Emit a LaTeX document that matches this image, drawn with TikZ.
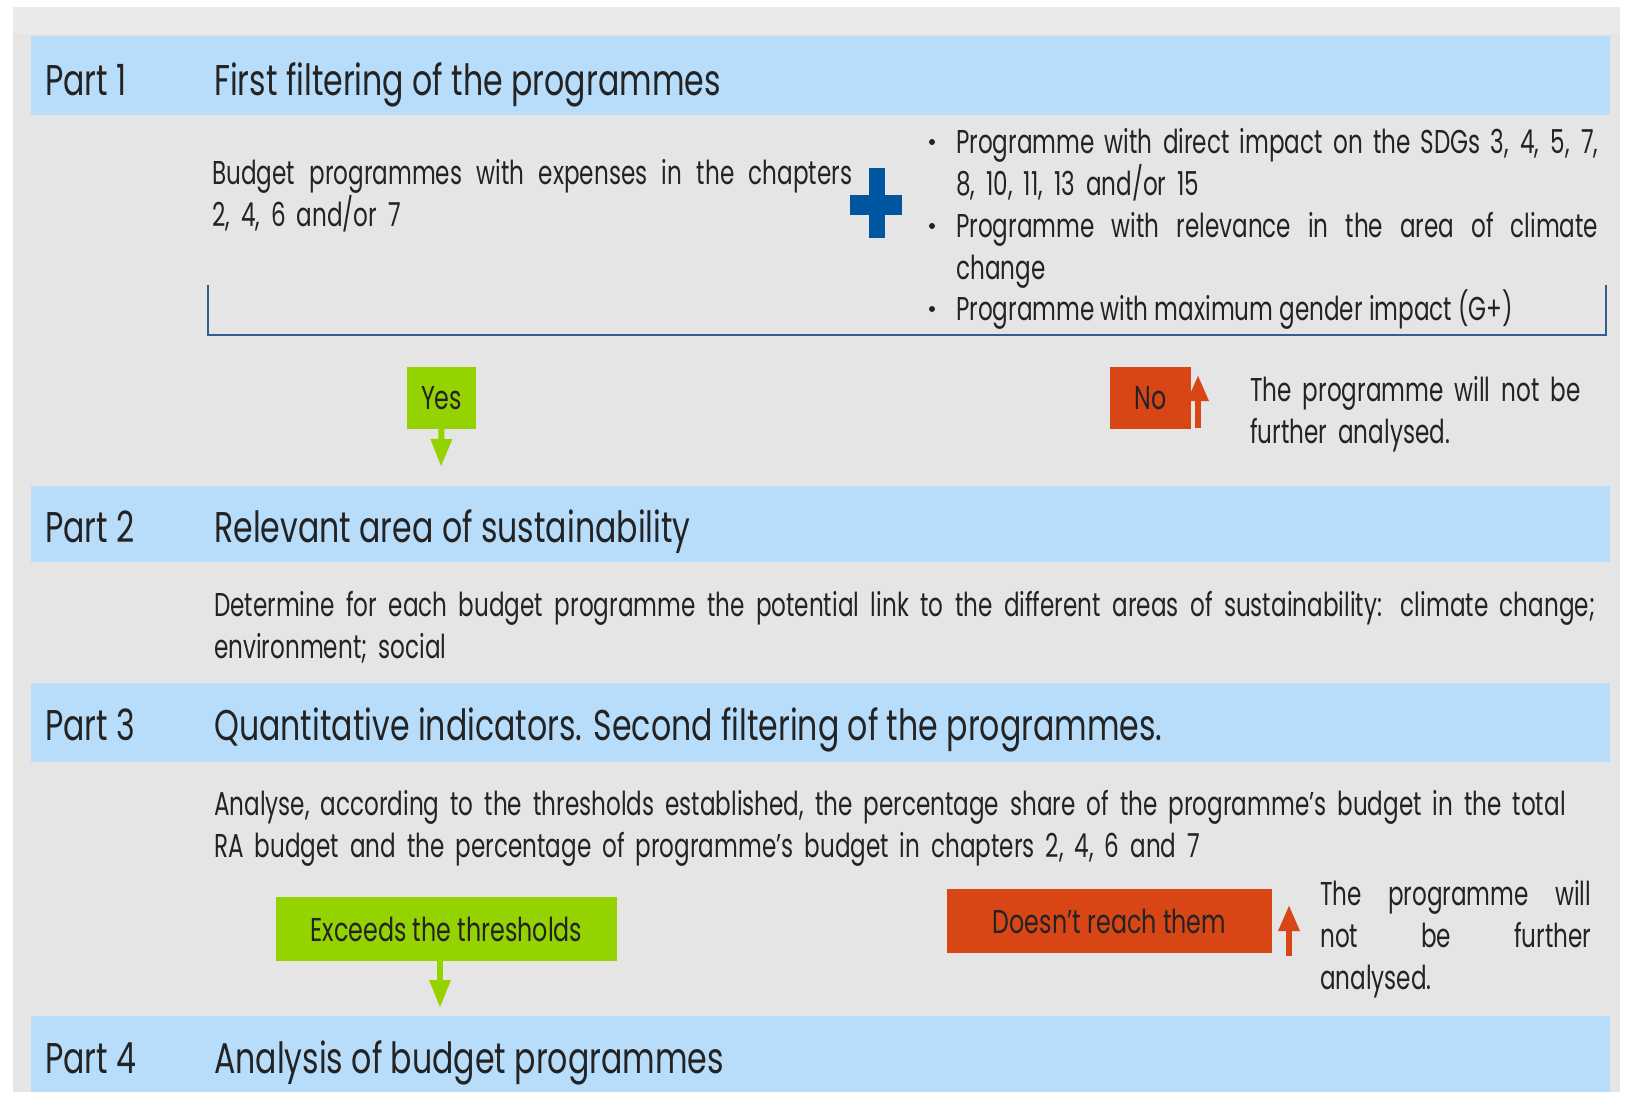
\documentclass[tikz,border=0pt]{standalone}
\usepackage{fontspec}
\setmainfont{Poppins}[FakeStretch=0.70]
\newfontfamily\hdrfont{Poppins}[FakeStretch=0.735]
\newfontfamily\boxfont{Poppins}[FakeStretch=0.72]
\usetikzlibrary{arrows.meta}
\definecolor{bggray}{RGB}{229,229,229}
\definecolor{topgray}{RGB}{234,234,234}
\definecolor{bandblue}{RGB}{183,221,251}
\definecolor{okgreen}{RGB}{148,210,0}
\definecolor{nored}{RGB}{216,70,22}
\definecolor{plusblue}{RGB}{0,86,160}
\definecolor{brkblue}{RGB}{52,94,140}
\definecolor{txt}{RGB}{35,35,35}
\newcommand{\jline}[2]{\makebox[#1][s]{\spaceskip=0pt\xspaceskip=0pt #2}}
\begin{document}
\begin{tikzpicture}[x=1pt,y=-1pt,
  band/.style={fill=bandblue},
  hdr/.style={anchor=base west, inner sep=0pt, text=txt, font=\hdrfont\fontsize{43}{50}\selectfont},
  body/.style={anchor=base west, inner sep=0pt, text=txt, align=left, font=\fontsize{33}{42}\selectfont},
  okbox/.style={fill=okgreen, inner sep=0pt, text=txt, font=\boxfont\fontsize{33}{42}\selectfont},
  nobox/.style={fill=nored, inner sep=0pt, text=txt, font=\boxfont\fontsize{33}{42}\selectfont},
  okarrow/.style={draw=okgreen, line width=6pt, -{Triangle[width=20pt,length=28pt]}},
  noarrow/.style={draw=nored, line width=6pt, -{Triangle[width=20pt,length=26pt]}},
  dot/.style={circle, fill=txt, inner sep=0pt, minimum size=6pt}
]
\useasboundingbox (0,0) rectangle (1629,1092);
\fill[white] (0,0) rectangle (1629,1092);
\fill[bggray] (13,7) rectangle (1620,1092);
\fill[topgray] (13,7) rectangle (1620,34);

% bands
\fill[band] (31,36) rectangle (1610,115);
\fill[band] (31,486) rectangle (1610,562);
\fill[band] (31,683) rectangle (1610,762);
\fill[band] (31,1016) rectangle (1610,1092);

% headers
\node[hdr] (p1) at (45,95) {Part 1};
\node[hdr] (t1) at (214,95) {First filtering of the programmes};
\node[hdr] (p2) at (45,542) {Part 2};
\node[hdr] (t2) at (214,542) {Relevant area of sustainability};
\node[hdr] (p3) at (45,740) {Part 3};
\node[hdr] (t3) at (214,740) {Quantitative indicators. Second filtering of the programmes.};
\node[hdr] (p4) at (45,1073) {Part 4};
\node[hdr] (t4) at (214,1073) {Analysis of budget programmes};

% Part 1 body
\node[body, text width=660pt] (b1) at (212,184)
  {\jline{640pt}{Budget programmes with expenses in the chapters}\\2, 4, 6 and/or 7};
\fill[plusblue] (850,195) rectangle (902,215);
\fill[plusblue] (869,168) rectangle (885,238);

\node[dot] (d1) at (932,142) {};
\node[dot] (d2) at (932,226) {};
\node[dot] (d3) at (932,309) {};
\node[body, text width=650pt] (c1) at (956,153)
  {\jline{642pt}{Programme with direct impact on the SDGs 3, 4, 5, 7,}\\8, 10, 11, 13 and/or 15};
\node[body, text width=650pt] (c2) at (956,237)
  {\jline{642pt}{Programme with relevance in the area of climate}\\change};
\node[body] (c3) at (956,320) {Programme with maximum gender impact (G+)};

\draw[brkblue, line width=2.5pt] (208,285) -- (208,335) -- (1606,335) -- (1606,285);

% Yes / No
\node[okbox, minimum width=69pt, minimum height=62pt] (yes) at (441.5,398) {Yes};
\coordinate (yesend) at (441,467);
\draw[okarrow] (yes.south) -- (yesend);
\node[nobox, minimum width=81pt, minimum height=62pt] (no) at (1150.5,398) {No};
\coordinate (nofoot) at (1198,428);
\coordinate (notip) at (1198,375);
\draw[noarrow] (nofoot) -- (notip);
\node[body, text width=360pt] (nt1) at (1250,401) {The programme will not be\\further analysed.};

% Part 2 body
\node[body, text width=1400pt] (b2) at (214,616)
  {\jline{1381pt}{Determine for each budget programme the potential link to the different areas of sustainability: climate change;}\\environment; social};

% Part 3 body
\node[body, text width=1400pt] (b3) at (214,815)
  {Analyse, according to the thresholds established, the percentage share of the programme’s budget in the total\\RA budget and the percentage of programme’s budget in chapters 2, 4, 6 and 7};

\node[okbox, minimum width=341pt, minimum height=64pt] (exc) at (446.5,929) {Exceeds the thresholds};
\coordinate (excend) at (440,1008);
\draw[okarrow] (exc.south -| excend) -- (excend);
\node[nobox, minimum width=325pt, minimum height=64pt] (dnr) at (1109.5,921) {Doesn’t reach them};
\coordinate (dnrfoot) at (1289,956);
\coordinate (dnrtip) at (1289,905);
\draw[noarrow] (dnrfoot) -- (dnrtip);
\node[body, text width=275pt] (nt2) at (1320,905)
  {\jline{271pt}{The programme will}\\\jline{271pt}{not be further}\\analysed.};
\end{tikzpicture}
\end{document}
